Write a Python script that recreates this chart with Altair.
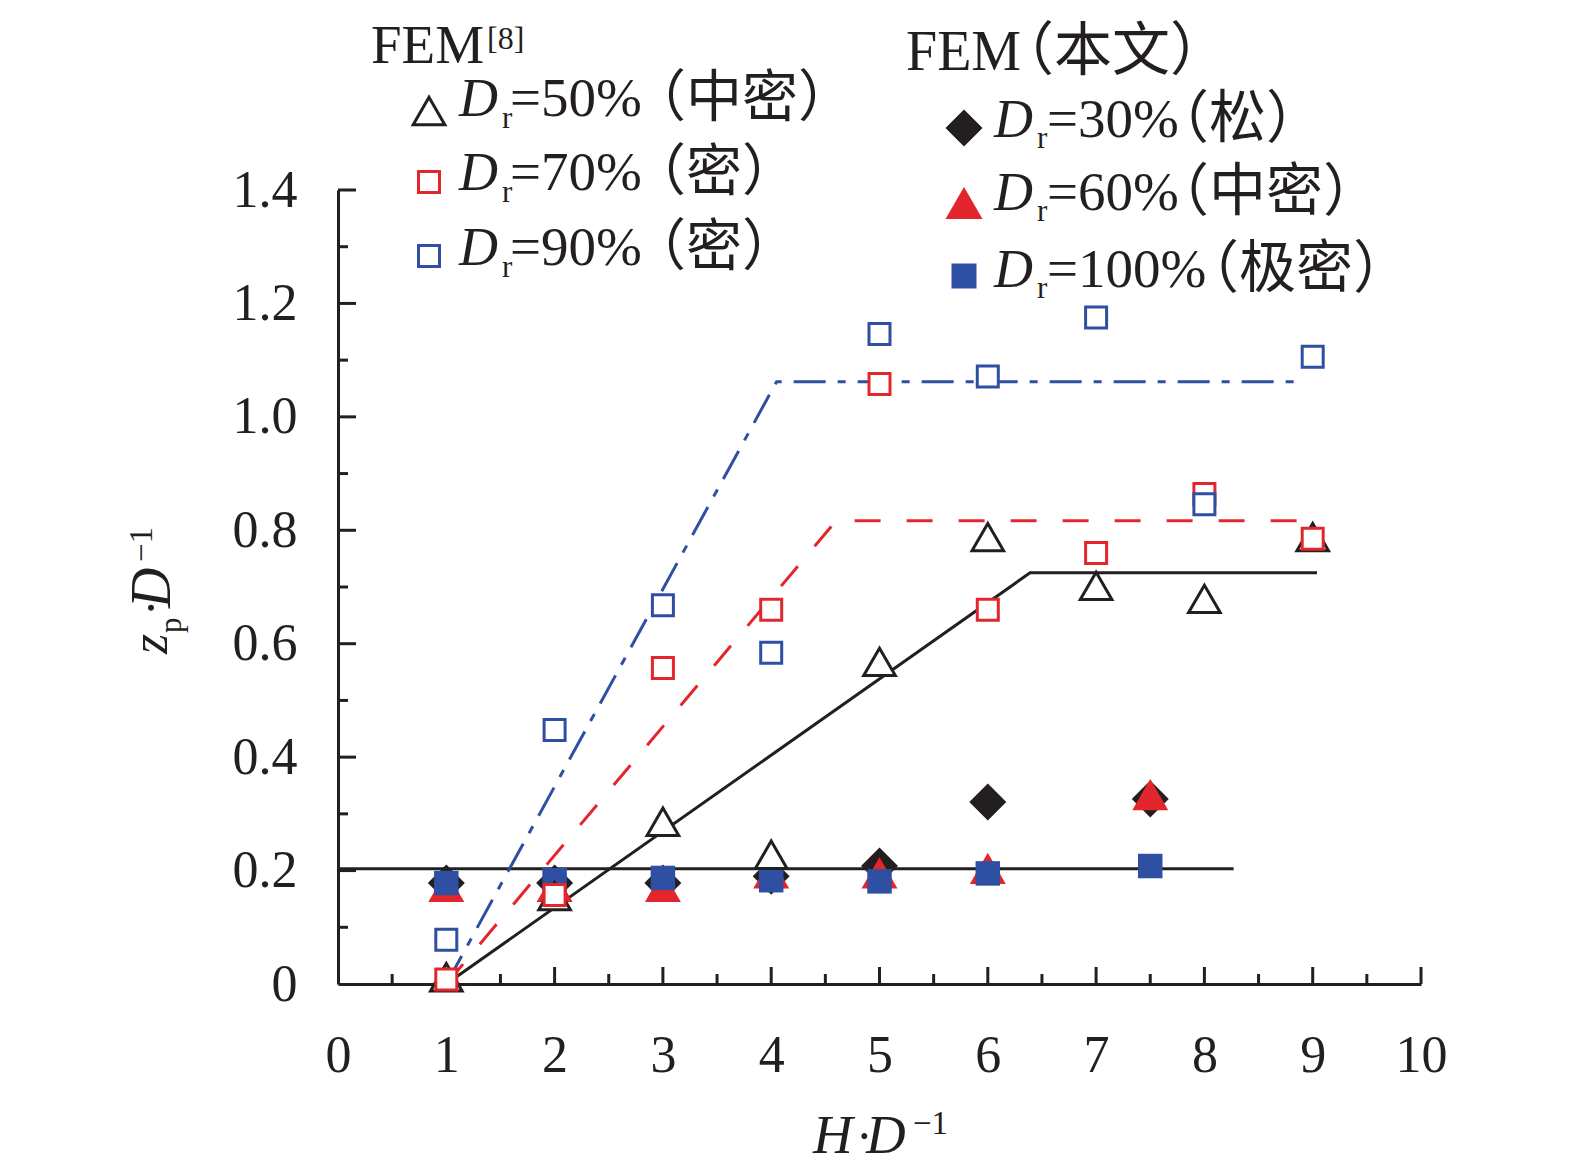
import altair as alt
import pandas as pd

SERIF = "Liberation Serif, Noto Sans CJK SC"
CJK = "Noto Sans CJK SC"
BLACK = "#231f20"
RED = "#e3262b"
BLUE = "#2f4fa3"

# ---------------- data ----------------
x_fem8 = [1, 2, 3, 4, 5, 6, 7, 8, 9]
y_dr50 = [0.012, 0.155, 0.286, 0.228, 0.568, 0.788, 0.702, 0.679, 0.788]
y_dr70 = [0.008, 0.157, 0.557, 0.660, 1.058, 0.660, 0.760, 0.864, 0.785]
y_dr90 = [0.078, 0.448, 0.668, 0.584, 1.146, 1.071, 1.175, 0.846, 1.106]

x_this = [1, 2, 3, 4, 5, 6, 7.5]
y_dr30 = [0.178, 0.178, 0.178, 0.190, 0.208, 0.321, 0.326]
y_dr60 = [0.172, 0.172, 0.172, 0.196, 0.196, 0.204, 0.334]
y_dr100 = [0.178, 0.183, 0.187, 0.183, 0.181, 0.195, 0.208]

fit50_x = [1, 6.39, 9.04]
fit50_y = [0, 0.725, 0.725]
fit70_x = [1, 4.6, 8.9]
fit70_y = [0, 0.817, 0.817]
fit90_x = [1, 4.05, 8.92]
fit90_y = [0, 1.062, 1.062]
ref_x = [0, 8.27]
ref_y = [0.203, 0.203]

x_ticks_major = [1, 2, 3, 4, 5, 6, 7, 8, 9, 10]
x_ticks_minor = [0.5, 1.5, 2.5, 3.5, 4.5, 5.5, 6.5, 7.5, 8.5, 9.5]
y_ticks_major = [0.2, 0.4, 0.6, 0.8, 1.0, 1.2, 1.4]
y_ticks_minor = [0.1, 0.3, 0.5, 0.7, 0.9, 1.1, 1.3]
x_labels = [0, 1, 2, 3, 4, 5, 6, 7, 8, 9, 10]
y_labels = [0, 0.2, 0.4, 0.6, 0.8, 1.0, 1.2, 1.4]

legend_left_title = "FEM"
legend_left_ref = "[8]"
legend_left_vals = ["=50%", "=70%", "=90%"]
legend_left_cjk = ["（中密）", "（密）", "（密）"]
legend_right_title = "FEM"
legend_right_cjk_title = "（本文）"
legend_right_vals = ["=30%", "=60%", "=100%"]
legend_right_cjk = ["（松）", "（中密）", "（极密）"]

# ---------------- layout ----------------
W, H = 1083, 794
PX0, PY0 = 338, 190  # page position of plot origin

XS = alt.Scale(domain=[0, 10], nice=False, zero=False)
YS = alt.Scale(domain=[0, 1.4], nice=False, zero=False)


def px(v):
    return v - PX0


def py(v):
    return v - PY0


dummy = alt.Data(values=[{"a": 1}])


def text(s, x, y, size, italic=False, angle=0, font=SERIF):
    return alt.Chart(dummy).mark_text(
        font=font, fontSize=size, fontStyle="italic" if italic else "normal",
        align="left", baseline="alphabetic", color=BLACK, angle=angle
    ).encode(x=alt.value(px(x)), y=alt.value(py(y)), text=alt.value(s))


def symbol(x, y, shape, size, fill, stroke=None, sw=0):
    kw = dict(shape=shape, size=size, filled=True, fill=fill, opacity=1, fillOpacity=1)
    if stroke:
        kw.update(stroke=stroke, strokeWidth=sw)
    return alt.Chart(dummy).mark_point(**kw).encode(x=alt.value(px(x)), y=alt.value(py(y)))


def line(xs, ys, color, dash=None):
    df = pd.DataFrame({"x": xs, "y": ys, "o": list(range(len(xs)))})
    kw = dict(color=color, strokeWidth=3)
    if dash:
        kw["strokeDash"] = dash
    return alt.Chart(df).mark_line(**kw).encode(
        x=alt.X("x:Q", scale=XS), y=alt.Y("y:Q", scale=YS), order="o:Q")


def pts(xs, ys, shape, size, fill, stroke=None, sw=0):
    df = pd.DataFrame({"x": xs, "y": ys})
    kw = dict(shape=shape, size=size, filled=True, fill=fill, opacity=1, fillOpacity=1)
    if stroke:
        kw.update(stroke=stroke, strokeWidth=sw)
    return alt.Chart(df).mark_point(**kw).encode(
        x=alt.X("x:Q", scale=XS), y=alt.Y("y:Q", scale=YS))


# axes layer
axes = alt.Chart(pd.DataFrame({"x": [0, 10], "y": [0, 1.4]})).mark_point(opacity=0).encode(
    x=alt.X("x:Q", scale=XS, axis=alt.Axis(
        values=x_labels, format="d", title=None, grid=False, ticks=False,
        domainColor=BLACK, domainWidth=3, labelFont=SERIF, labelFontSize=52,
        labelColor=BLACK, labelPadding=46, labelFlush=False)),
    y=alt.Y("y:Q", scale=YS, axis=alt.Axis(
        values=y_labels, title=None, grid=False, ticks=False,
        labelExpr="datum.value == 0 ? '0' : format(datum.value, '.1f')",
        domainColor=BLACK, domainWidth=3, labelFont=SERIF, labelFontSize=52,
        labelColor=BLACK, labelPadding=41, labelFlush=False)),
)

xt_major = alt.Chart(pd.DataFrame({"v": x_ticks_major})).mark_rule(color=BLACK, strokeWidth=3).encode(
    x=alt.X("v:Q", scale=XS), y=alt.value(H), y2=alt.value(H - 17))
xt_minor = alt.Chart(pd.DataFrame({"v": x_ticks_minor})).mark_rule(color=BLACK, strokeWidth=3).encode(
    x=alt.X("v:Q", scale=XS), y=alt.value(H), y2=alt.value(H - 10))
yt_major = alt.Chart(pd.DataFrame({"v": y_ticks_major})).mark_rule(color=BLACK, strokeWidth=3).encode(
    y=alt.Y("v:Q", scale=YS), x=alt.value(0), x2=alt.value(18))
yt_minor = alt.Chart(pd.DataFrame({"v": y_ticks_minor})).mark_rule(color=BLACK, strokeWidth=3).encode(
    y=alt.Y("v:Q", scale=YS), x=alt.value(0), x2=alt.value(10))

layers = [axes, xt_major, xt_minor, yt_major, yt_minor,
          line(ref_x, ref_y, BLACK),
          line(fit50_x, fit50_y, BLACK),
          line(fit70_x, fit70_y, RED, [26, 26]),
          line(fit90_x, fit90_y, BLUE, [32, 12, 8, 12]),
          pts(x_this, y_dr30, "diamond", 1369, BLACK),
          pts(x_this, y_dr60, "triangle-up", 1296, RED),
          pts(x_this, y_dr100, "square", 600, BLUE),
          pts(x_fem8, y_dr50, "triangle-up", 1000, "white", BLACK, 3),
          pts(x_fem8, y_dr70, "square", 441, "white", RED, 3),
          pts(x_fem8, y_dr90, "square", 441, "white", BLUE, 3)]

# legend (left)
layers += [text(legend_left_title, 371, 63, 55), text(legend_left_ref, 487, 49, 32)]
left_rows = [(111, 116), (182, 190), (256, 265)]
left_syms = [("triangle-up", 1000, "white", BLACK), ("square", 441, "white", RED), ("square", 441, "white", BLUE)]
for (sy, by), (shp, sz, fl, st), val, cj in zip(left_rows, left_syms, legend_left_vals, legend_left_cjk):
    layers += [symbol(429, sy, shp, sz, fl, st, 3),
               text("D", 459, by, 54, italic=True),
               text("r", 502, by + 12, 31),
               text(val, 510, by, 55),
               text(cj, 630, by, 56, font=CJK)]

# legend (right)
layers += [text(legend_right_title, 906, 70, 56), text(legend_right_cjk_title, 996, 70, 58, font=CJK)]
right_rows = [(128, 137), (203, 210), (276, 287)]
right_syms = [("diamond", 1369, BLACK), ("triangle-up", 1369, RED), ("square", 625, BLUE)]
right_cjk_x = [1152, 1152, 1182]
for (sy, by), (shp, sz, fl), val, cj, cx in zip(right_rows, right_syms, legend_right_vals,
                                                  legend_right_cjk, right_cjk_x):
    layers += [symbol(964, sy, shp, sz, fl),
               text("D", 994, by, 54, italic=True),
               text("r", 1037, by + 11, 31),
               text(val, 1047, by, 55),
               text(cj, cx, by, 57, font=CJK)]

# axis titles
layers += [text("H", 813, 1153, 55, italic=True), text("·", 856, 1153, 50),
           text("D", 866, 1153, 55, italic=True), text("−1", 913, 1134, 33)]
layers += [text("z", 167, 654, 52, italic=True, angle=270),
           text("p", 181, 633, 31, angle=270),
           text("·", 168, 616, 50, angle=270),
           text("D", 170, 608, 56, italic=True, angle=270),
           text("−1", 152, 562, 33, angle=270)]

chart = alt.layer(*layers).properties(
    width=W, height=H,
    background="white",
    autosize=alt.AutoSizeParams(type="none"),
    padding={"left": 330, "top": 182, "right": 135, "bottom": 180},
).configure_view(strokeWidth=0, stroke="transparent")

chart.save("out.html", embed_options={"renderer": "svg", "actions": False})
